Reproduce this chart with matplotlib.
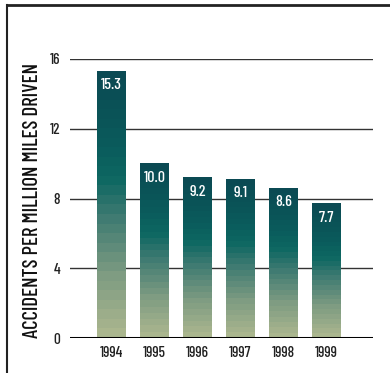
import matplotlib
matplotlib.use("Agg")
import matplotlib.pyplot as plt
import numpy as np
from matplotlib.colors import LinearSegmentedColormap
from matplotlib.lines import Line2D

years = ["1994", "1995", "1996", "1997", "1998", "1999"]
accidents = [15.3, 10.0, 9.2, 9.1, 8.6, 7.7]
y_ticks = [0, 4, 8, 12, 16]

FONT = ["Barlow Condensed", "Roboto Condensed", "DejaVu Sans"]
plt.rcParams["font.family"] = FONT

# bottom -> top shading used inside every bar
bar_cmap = LinearSegmentedColormap.from_list(
    "bar_shade",
    [(0.0, "#aab68e"), (0.22, "#7f9c82"), (0.45, "#3f7b72"),
     (0.6, "#0d6762"), (0.75, "#0a5a5b"), (1.0, "#0b4a53")],
)
n_bands = 28
shade = np.linspace(0, 1, n_bands)[::-1].reshape(-1, 1)

fig = plt.figure(figsize=(3.9, 3.73), dpi=100)
ax = fig.add_axes([70 / 390, 35 / 373, 303 / 390, 279 / 373])

x = np.arange(len(years))
width = 0.67
for xi, val in zip(x, accidents):
    ax.imshow(shade, cmap=bar_cmap, vmin=0, vmax=1, aspect="auto",
              interpolation="nearest",
              extent=[xi - width / 2, xi + width / 2, 0, val], zorder=3)
    ax.text(xi, val - 0.4, f"{val:.1f}", ha="center", va="top",
            color="white", fontsize=11.5, fontweight="medium", zorder=4)

for t in y_ticks[1:]:
    ax.axhline(t, color="#333333", lw=1.0, zorder=1)
ax.axhline(0, color="black", lw=2.2, zorder=5)

ax.set_xlim(-0.965, 6.08)
ax.set_ylim(0, 16)
ax.set_xticks(x)
ax.set_xticklabels(years, fontsize=11, fontweight="medium")
ax.set_yticks(y_ticks)
ax.set_yticklabels([str(t) for t in y_ticks], fontsize=11, fontweight="medium")
ax.tick_params(length=0, pad=6, colors="#222222")
ax.tick_params(axis="y", pad=7)
for s in ax.spines.values():
    s.set_visible(False)

fig.text(33 / 390, 1 - 201 / 373, "ACCIDENTS PER MILLION MILES DRIVEN",
         rotation=90, ha="center", va="center", fontsize=15,
         fontweight="medium", color="#111111")

# outer frame: top and left edges only
fig.add_artist(Line2D([7 / 390, 1], [1 - 5 / 373] * 2, color="#222222",
                      lw=2, transform=fig.transFigure))
fig.add_artist(Line2D([7 / 390] * 2, [0, 1 - 5 / 373], color="#222222",
                      lw=1.5, transform=fig.transFigure))

fig.savefig("out.png", dpi=100)
